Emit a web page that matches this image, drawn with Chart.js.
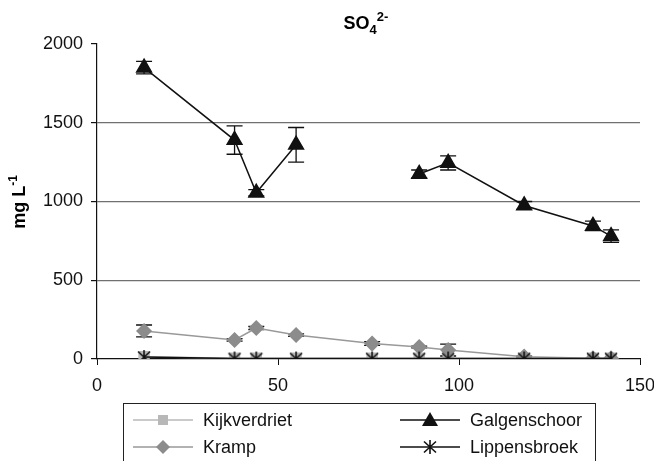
<!DOCTYPE html>
<html>
<head>
<meta charset="utf-8">
<script src="https://cdn.jsdelivr.net/npm/chart.js"></script>
<style>
  body { margin: 0; background: #fff; }
  canvas { display: block; }
</style>
</head>
<body>
<canvas id="chart" width="654" height="461"></canvas>
<script>
// sampling days (x axis)
const days = [13, 38, 44, 55, 76, 89, 97, 118, 137, 142];

// SO4 2- concentrations, mg/L
const kijkverdriet = [15, 5, 5, 5, 5, 5, 5, 5, 5, 5];
const kramp = [178, 121, 197, 152, 98, 76, 57, 15, 5, 5];
const galgenschoor = [1850, 1390, 1055, 1360, null, 1175, 1245, 975, 845, 780];
const lippensbroek = [12, 3, 3, 3, 3, 3, 3, 3, 3, 3];

// standard deviations (error bars)
const krampErr = [38, 8, 10, 8, 12, 5, 38, 3, 0, 0];
const galgenschoorErr = [40, 90, 20, 110, null, 25, 45, 25, 30, 40];

const xTicks = [0, 50, 100, 150];
const yTicks = [0, 500, 1000, 1500, 2000];

const FONT = "'Liberation Sans', Arial, sans-serif";

// asterisk marker (X with a vertical bar)
const star = document.createElement("canvas");
star.width = 16;
star.height = 16;
(() => {
  const c = star.getContext("2d");
  c.strokeStyle = "#111";
  c.lineWidth = 1.6;
  c.beginPath();
  c.moveTo(8, 1); c.lineTo(8, 15);
  c.moveTo(2, 2.5); c.lineTo(14, 13.5);
  c.moveTo(14, 2.5); c.lineTo(2, 13.5);
  c.stroke();
})();

const toPoints = (vals) => days.map((d, i) => ({ x: d, y: vals[i] }));

const errorBars = {
  Kramp: krampErr,
  Galgenschoor: galgenschoorErr,
};

const errorBarPlugin = {
  id: "errorBars",
  beforeDatasetsDraw(chart) {
    const { ctx, scales } = chart;
    ctx.save();
    ctx.strokeStyle = "#111";
    ctx.lineWidth = 1.3;
    chart.data.datasets.forEach((ds) => {
      const errs = errorBars[ds.label];
      if (!errs) return;
      ds.data.forEach((p, i) => {
        if (p.y == null || !errs[i]) return;
        const x = scales.x.getPixelForValue(p.x);
        const yTop = scales.y.getPixelForValue(p.y + errs[i]);
        const yBot = scales.y.getPixelForValue(Math.max(0, p.y - errs[i]));
        ctx.beginPath();
        ctx.moveTo(x, yTop); ctx.lineTo(x, yBot);
        ctx.moveTo(x - 8, yTop); ctx.lineTo(x + 8, yTop);
        ctx.moveTo(x - 8, yBot); ctx.lineTo(x + 8, yBot);
        ctx.stroke();
      });
    });
    ctx.restore();
  },
};

function drawMarker(ctx, style, x, y, color) {
  ctx.fillStyle = color;
  ctx.beginPath();
  if (style === "rect") {
    ctx.rect(x - 5, y - 5, 10, 10);
    ctx.fill();
  } else if (style === "rectRot") {
    ctx.moveTo(x, y - 7); ctx.lineTo(x + 7, y); ctx.lineTo(x, y + 7); ctx.lineTo(x - 7, y);
    ctx.closePath();
    ctx.fill();
  } else if (style === "triangle") {
    ctx.moveTo(x, y - 8); ctx.lineTo(x + 8, y + 6); ctx.lineTo(x - 8, y + 6);
    ctx.closePath();
    ctx.fill();
  } else {
    ctx.drawImage(star, x - 8, y - 8);
  }
}

const textPlugin = {
  id: "texts",
  afterDraw(chart) {
    const { ctx } = chart;
    ctx.save();
    ctx.fillStyle = "#000";
    ctx.textBaseline = "alphabetic";

    // title SO4 2-
    ctx.font = "bold 18px " + FONT;
    const w1 = ctx.measureText("SO").width;
    ctx.font = "bold 13px " + FONT;
    const w2 = ctx.measureText("4").width;
    const w3 = ctx.measureText("2-").width;
    let tx = 366 - (w1 + w2 + w3) / 2;
    ctx.font = "bold 18px " + FONT;
    ctx.fillText("SO", tx, 29);
    ctx.font = "bold 13px " + FONT;
    ctx.fillText("4", tx + w1, 34);
    ctx.fillText("2-", tx + w1 + w2, 21);

    // y axis title mg L-1
    ctx.translate(25, 202);
    ctx.rotate(-Math.PI / 2);
    ctx.font = "bold 18px " + FONT;
    const m = ctx.measureText("mg L").width;
    ctx.font = "bold 12px " + FONT;
    const s = ctx.measureText("-1").width;
    const start = -(m + s) / 2;
    ctx.font = "bold 18px " + FONT;
    ctx.fillText("mg L", start, 0);
    ctx.font = "bold 12px " + FONT;
    ctx.fillText("-1", start + m, -8);
    ctx.restore();

    // legend box
    ctx.save();
    ctx.strokeStyle = "#222";
    ctx.lineWidth = 1;
    ctx.strokeRect(123.5, 403.5, 472, 80);
    ctx.font = "18px " + FONT;
    ctx.textBaseline = "middle";
    const items = [
      { i: 0, lx: 133, tx: 203, y: 420 },
      { i: 1, lx: 133, tx: 203, y: 447 },
      { i: 2, lx: 400, tx: 470, y: 420 },
      { i: 3, lx: 400, tx: 470, y: 447 },
    ];
    items.forEach((it) => {
      const ds = chart.data.datasets[it.i];
      ctx.strokeStyle = ds.borderColor;
      ctx.lineWidth = 1.5;
      ctx.beginPath();
      ctx.moveTo(it.lx, it.y);
      ctx.lineTo(it.lx + 60, it.y);
      ctx.stroke();
      drawMarker(ctx, ds.legendStyle, it.lx + 30, it.y, ds.pointBackgroundColor);
      ctx.fillStyle = "#111";
      ctx.fillText(ds.label, it.tx, it.y + 1);
    });
    ctx.restore();
  },
};

new Chart(document.getElementById("chart"), {
  type: "line",
  data: {
    datasets: [
      {
        label: "Kijkverdriet",
        data: toPoints(kijkverdriet),
        borderColor: "#b8b8b8",
        pointBackgroundColor: "#b8b8b8",
        pointBorderColor: "#b8b8b8",
        pointStyle: "rect",
        legendStyle: "rect",
        pointRadius: 7,
        borderWidth: 1.5,
        order: 3,
      },
      {
        label: "Kramp",
        data: toPoints(kramp),
        borderColor: "#999999",
        pointBackgroundColor: "#8c8c8c",
        pointBorderColor: "#8c8c8c",
        pointStyle: "rectRot",
        legendStyle: "rectRot",
        pointRadius: 7,
        borderWidth: 1.5,
        order: 2,
      },
      {
        label: "Galgenschoor",
        data: toPoints(galgenschoor),
        borderColor: "#111111",
        pointBackgroundColor: "#111111",
        pointBorderColor: "#111111",
        pointStyle: "triangle",
        legendStyle: "triangle",
        pointRadius: 8.5,
        borderWidth: 1.5,
        spanGaps: false,
        order: 1,
      },
      {
        label: "Lippensbroek",
        data: toPoints(lippensbroek),
        borderColor: "#111111",
        pointBackgroundColor: "#111111",
        pointBorderColor: "#111111",
        pointStyle: star,
        legendStyle: "star",
        borderWidth: 1.5,
        order: 0,
      },
    ],
  },
  options: {
    responsive: false,
    animation: false,
    devicePixelRatio: 1,
    layout: { padding: { top: 44, right: 0, left: 0, bottom: 0 } },
    plugins: {
      legend: { display: false },
      title: { display: false },
      tooltip: { enabled: false },
    },
    scales: {
      x: {
        type: "linear",
        min: 0,
        max: 150,
        afterBuildTicks: (scale) => { scale.ticks = xTicks.map((v) => ({ value: v })); },
        afterFit: (scale) => {
          scale.height = 102;
          scale.paddingRight = 14;
          scale.paddingLeft = 0;
        },
        border: { color: "#111", width: 1.2 },
        grid: { drawOnChartArea: false, drawTicks: true, tickLength: 6, tickColor: "#111" },
        ticks: { color: "#111", padding: 10, maxRotation: 0, font: { family: FONT, size: 18 } },
      },
      y: {
        min: 0,
        max: 2000,
        afterBuildTicks: (scale) => { scale.ticks = yTicks.map((v) => ({ value: v })); },
        afterFit: (scale) => { scale.width = 97; },
        border: { color: "#111", width: 1.2 },
        grid: {
          color: (c) => (c.tick && c.tick.value > 0 && c.tick.value < 2000 ? "#707070" : "rgba(0,0,0,0)"),
          lineWidth: 1.2,
          tickLength: 6,
          tickColor: "#111",
        },
        ticks: {
          color: "#111",
          padding: 8,
          font: { family: FONT, size: 18 },
          callback: (v) => String(v),
        },
      },
    },
  },
  plugins: [errorBarPlugin, textPlugin],
});
</script>
</body>
</html>
